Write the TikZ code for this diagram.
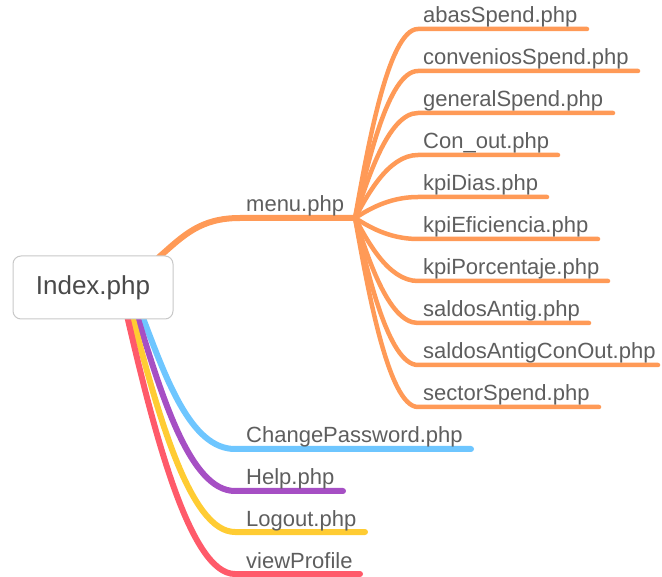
\documentclass[tikz,border=0pt]{standalone}
\usepackage{fontspec}
\setmainfont{Liberation Sans}
\usetikzlibrary{calc}
\definecolor{orangeb}{HTML}{FF9A57}
\definecolor{blueb}{HTML}{6EC6FF}
\definecolor{purpleb}{HTML}{A64FC4}
\definecolor{yellowb}{HTML}{FFCC33}
\definecolor{redb}{HTML}{FF5A6A}
\definecolor{txtgray}{HTML}{5E5E5E}
\definecolor{rootgray}{HTML}{4A4A4A}
\definecolor{boxgray}{HTML}{C8C8C8}
\pgfdeclarelayer{bg}
\pgfsetlayers{bg,main}
\begin{document}
\begin{tikzpicture}[x=1pt,y=-1pt,
  lbl/.style={anchor=base west, inner sep=0pt, font=\fontsize{22}{22}\selectfont, text=txtgray},
  twig/.style={line width=4.5pt, line cap=round, draw=orangeb},
  limb/.style={line width=6pt, line cap=round},
  rootbox/.style={draw=boxgray, line width=1pt, rounded corners=8pt, fill=white,
    minimum width=160pt, minimum height=63pt, inner sep=0pt,
    font=\fontsize{26}{26}\selectfont, text=rootgray},
]
\useasboundingbox (0,0) rectangle (662,577);

% central topic
\node[rootbox] (root) at (93,287.5) {Index.php};

% menu branch and its hub
\coordinate (menuS) at (240,218);
\coordinate (hub) at (355,218);
\node[lbl] (menu) at (246,212) {menu.php};
\begin{pgfonlayer}{bg}
\draw[limb, draw=orangeb] ($(root.north east)+(-15,2)$) .. controls +(25,-22) and +(-40,0) .. (menuS) -- (hub);
\end{pgfonlayer}

% second-level pages under menu.php
\foreach \n/\t/\y/\e in {
  a/abasSpend.php/29/587,
  b/conveniosSpend.php/71/638,
  c/generalSpend.php/113/613,
  d/Con\_out.php/155/558,
  e/kpiDias.php/197/547,
  f/kpiEficiencia.php/239/598,
  g/kpiPorcentaje.php/281/608,
  h/saldosAntig.php/323/589,
  i/saldosAntigConOut.php/365/658,
  j/sectorSpend.php/407/599}{
  \coordinate (s\n) at (418,\y);
  \coordinate (e\n) at (\e,\y);
  \node[lbl] (l\n) at (423,\y-6) {\t};
  \begin{pgfonlayer}{bg}
  \draw[twig] (hub) .. controls +(12,{0.35*(\y-218)}) and +(-30,0) .. (s\n) -- (e\n);
  \end{pgfonlayer}
}

% lower branches
\foreach \n/\t/\dx/\y/\e/\c in {
  cp/ChangePassword.php/49/449/471/blueb,
  hp/Help.php/44/491/343/purpleb,
  lo/Logout.php/39/532/365/yellowb,
  vp/viewProfile/34/574/360/redb}{
  \coordinate (s\n) at (235,\y);
  \coordinate (e\n) at (\e,\y);
  \node[lbl] (l\n) at (246,\y-6) {\t};
  \begin{pgfonlayer}{bg}
  \draw[limb, draw=\c] ($(root.south)+(\dx,-4)$) .. controls +({0.25*(142-\dx)},{0.45*(\y-315)}) and +(-45,0) .. (s\n) -- (e\n);
  \end{pgfonlayer}
}
\end{tikzpicture}
\end{document}
